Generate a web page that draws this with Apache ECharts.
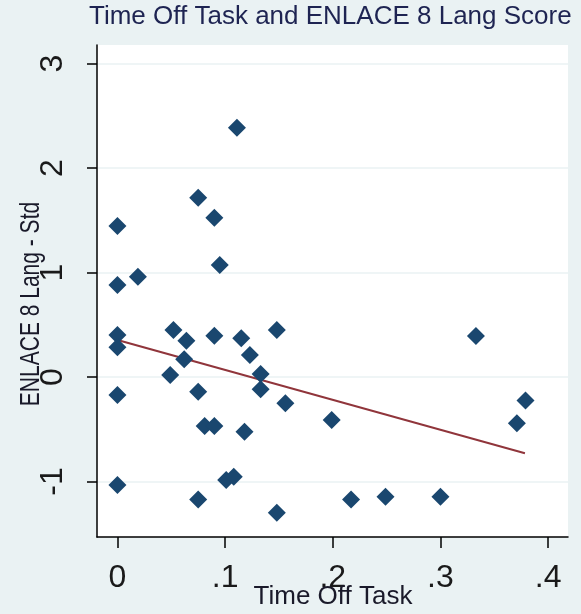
<!DOCTYPE html>
<html><head><meta charset="utf-8">
<script src="https://cdn.jsdelivr.net/npm/echarts@6/dist/echarts.min.js"></script>
<style>html,body{margin:0;padding:0;background:#eaf2f3}#c{width:581px;height:614px}</style>
</head><body><div id="c"></div>
<script>
const titleText = 'Time Off Task and ENLACE 8 Lang Score';
const xName = 'Time Off Task';
const yName = 'ENLACE 8 Lang - Std';
const xTicks = [0, 0.1, 0.2, 0.3, 0.4];
const yTicks = [-1, 0, 1, 2, 3];
const timeOffTask = [0.111,0.075,0.090,0.000,0.095,0.019,0.000,0.000,0.000,0.052,0.064,0.062,0.090,0.115,0.123,0.148,0.133,0.133,0.049,0.000,0.075,0.156,0.081,0.090,0.118,0.199,0.000,0.101,0.108,0.075,0.148,0.333,0.379,0.371,0.217,0.249,0.300];
const langScore = [2.386,1.716,1.524,1.445,1.072,0.960,0.880,0.402,0.284,0.450,0.348,0.169,0.395,0.370,0.211,0.450,0.029,-0.118,0.019,-0.172,-0.140,-0.252,-0.469,-0.469,-0.523,-0.411,-1.033,-0.986,-0.954,-1.171,-1.298,0.392,-0.226,-0.443,-1.171,-1.145,-1.145];
const fitX = [0, 0.3785];
const fitY = [0.354, -0.730];

const scatterData = timeOffTask.map((x, i) => [x, langScore[i]]);
const fitData = fitX.map((x, i) => [x, fitY[i]]);
const FONT = 'Liberation Sans';
const fmt = v => { if (Math.abs(v) < 1e-9) return '0'; let s = String(Math.round(v*10)/10); return s.replace(/^0\./, '.').replace(/^-0\./, '-.'); };

const chart = echarts.init(document.getElementById('c'), null, {renderer: 'canvas'});
chart.setOption({
  backgroundColor: '#eaf2f3',
  animation: false,
  grid: {left: 97, top: 45, right: 13, bottom: 77, show: true, backgroundColor: '#ffffff', borderWidth: 0, containLabel: false, outerBoundsMode: 'none'},
  xAxis: {
    type: 'value', min: -0.019, max: 0.4185,
    axisLine: {show: true, onZero: false, lineStyle: {color: '#000', width: 1.5}},
    axisTick: {show: true, length: 11, customValues: xTicks, lineStyle: {color: '#000', width: 1.5}},
    axisLabel: {customValues: xTicks, formatter: fmt, fontFamily: FONT, fontSize: 32, color: '#1a1a1a', margin: 25},
    splitLine: {show: false}
  },
  yAxis: {
    type: 'value', min: -1.531, max: 3.177,
    axisLine: {show: true, onZero: false, lineStyle: {color: '#000', width: 1.5}},
    axisTick: {show: true, length: 10, customValues: yTicks, lineStyle: {color: '#000', width: 1.5}},
    axisLabel: {customValues: yTicks, formatter: fmt, rotate: 90, fontFamily: FONT, fontSize: 32, color: '#1a1a1a', margin: 28},
    splitLine: {show: true, lineStyle: {color: '#eaf2f3', width: 1.5}}
  },
  graphic: [
    {type: 'text', left: 89, top: 4, style: {text: titleText, font: '26px "Liberation Sans"', fill: '#1e2452'}},
    {type: 'text', x: 333, y: 584, z: 10, style: {text: xName, font: '26px "Liberation Sans"', fill: '#1a1a2a', align: 'center', verticalAlign: 'top'}},
    {type: 'text', x: 31, y: 304, rotation: Math.PI/2, scaleX: 0.75, style: {text: yName, font: '28px "Liberation Sans"', fill: '#1a1a2a', align: 'center', verticalAlign: 'middle'}}
  ],
  series: [
    {type: 'line', data: fitData, symbol: 'none', lineStyle: {color: '#90353b', width: 2}, z: 3},
    {type: 'scatter', data: scatterData, symbol: 'diamond', symbolSize: 18, itemStyle: {color: '#1a476f', opacity: 1}, z: 4}
  ]
});
</script></body></html>
